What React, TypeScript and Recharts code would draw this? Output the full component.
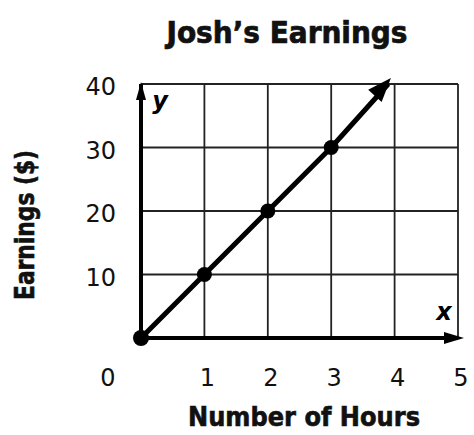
import React from 'react';
import { LineChart, Line, XAxis, YAxis, CartesianGrid, ReferenceDot, Label } from 'recharts';

const hours = [0, 1, 2, 3, 3.9];
const earnings = [0, 10, 20, 30, 40];
const xTicks = [0, 1, 2, 3, 4, 5];
const yTicks = [0, 10, 20, 30, 40];
const title = 'Josh\u2019s Earnings';
const xLabel = 'Number of Hours';
const yLabel = 'Earnings ($)';
const xAxisLetter = 'x';
const yAxisLetter = 'y';

const data = hours.map((h, i) => ({ hours: h, earnings: earnings[i] }));

const BOLD_FONT = "'DejaVu Sans Condensed', 'Liberation Sans Narrow', 'DejaVu Sans', sans-serif";
const TICK_FONT = "'DejaVu Sans', 'Noto Sans', sans-serif";

const XTick = (props: any) => {
  const { x, y, payload } = props;
  const v = payload.value;
  const dx = v === 0 ? -33 : 3;
  return (
    <text x={x + dx} y={y} dy={32} textAnchor="middle" dominantBaseline="central"
      fontFamily={TICK_FONT} fontSize={24} fill="#111">
      {v}
    </text>
  );
};

const YTick = (props: any) => {
  const { x, y, payload } = props;
  const v = payload.value;
  if (v === 0) return <g />;
  return (
    <text x={x - 17} y={y} dy={3} textAnchor="end" dominantBaseline="central"
      fontFamily={TICK_FONT} fontSize={24} fill="#111">
      {v}
    </text>
  );
};

const renderDot = (props: any) => {
  const { cx, cy, index, points } = props;
  if (index === hours.length - 1) {
    let ang = -Math.PI / 4;
    if (points && points[index - 1]) {
      const p = points[index - 1];
      ang = Math.atan2(cy - p.y, cx - p.x);
    }
    const c = Math.cos(ang), s = Math.sin(ang);
    const tx = cx + 4 * c, ty = cy + 4 * s - 3;
    const bx = tx - 24 * c, by = ty - 24 * s;
    const w = 9;
    const pts = `${tx},${ty} ${bx - w * s},${by + w * c} ${bx + w * s},${by - w * c}`;
    return <polygon key={`dot-${index}`} points={pts} fill="#000" />;
  }
  return <circle key={`dot-${index}`} cx={cx} cy={cy} r={index === 0 ? 8 : 7.5} fill="#000" />;
};

const RightArrow = (props: any) => {
  const { cx, cy } = props;
  return (
    <g>
      <polygon points={`${cx + 6},${cy} ${cx - 14},${cy - 6} ${cx - 14},${cy + 6}`} fill="#000" />
      <text x={cx - 14} y={cy - 18} textAnchor="middle" fontFamily={TICK_FONT} fontStyle="italic"
        fontWeight="bold" fontSize={24} fill="#000">{xAxisLetter}</text>
    </g>
  );
};

const UpArrow = (props: any) => {
  const { cx, cy } = props;
  return (
    <g>
      <polygon points={`${cx},${cy - 2} ${cx - 5},${cy + 16} ${cx + 5},${cy + 16}`} fill="#000" />
      <text x={cx + 19} y={cy + 25} textAnchor="middle" fontFamily={TICK_FONT} fontStyle="italic"
        fontWeight="bold" fontSize={24} fill="#000">{yAxisLetter}</text>
    </g>
  );
};

const YLabelContent = () => {
  const cx = 25;
  const cy = 225;
  return (
    <text x={cx} y={cy} transform={`rotate(-90, ${cx}, ${cy})`} textAnchor="middle"
      dominantBaseline="central" fontFamily={BOLD_FONT} fontWeight="bold" fontSize={26}
      textLength={150} lengthAdjust="spacingAndGlyphs"
      stroke="#111" strokeWidth={0.6} fill="#111">
      {yLabel}
    </text>
  );
};

const XLabelContent = () => {
  return (
    <text x={304} y={426} textAnchor="middle" fontFamily={BOLD_FONT} fontWeight="bold" fontSize={27}
      textLength={232} lengthAdjust="spacingAndGlyphs"
      stroke="#111" strokeWidth={0.6} fill="#111">
      {xLabel}
    </text>
  );
};

export default function App() {
  return (
    <div style={{ position: 'absolute', left: 0, top: 0, width: 474, height: 435, background: '#fff' }}>
      <LineChart width={474} height={435} data={data} margin={{ top: 84, right: 16, bottom: 0, left: 0 }}>
        <CartesianGrid stroke="#222" strokeWidth={1.8} horizontal vertical
          horizontalValues={yTicks} verticalValues={xTicks} />
        <XAxis type="number" dataKey="hours" domain={[0, 5]} ticks={xTicks} interval={0}
          height={97} tick={<XTick />} tickLine={false}
          axisLine={{ stroke: '#000', strokeWidth: 4 }}>
          <Label content={<XLabelContent />} />
        </XAxis>
        <YAxis type="number" domain={[0, 40]} ticks={yTicks} interval={0} width={141}
          tick={<YTick />} tickLine={false} axisLine={{ stroke: '#000', strokeWidth: 4 }}>
          <Label content={<YLabelContent />} />
        </YAxis>
        <ReferenceDot x={5} y={0} shape={<RightArrow />} ifOverflow="visible" />
        <ReferenceDot x={0} y={40} shape={<UpArrow />} ifOverflow="visible" />
        <Line type="linear" dataKey="earnings" stroke="#000" strokeWidth={5}
          dot={renderDot} activeDot={false} isAnimationActive={false} />
      </LineChart>
      <svg width={474} height={70} style={{ position: 'absolute', left: 0, top: 0, pointerEvents: 'none' }}>
        <text x={287} y={43} textAnchor="middle" fontFamily={BOLD_FONT} fontWeight="bold" fontSize={31}
          textLength={241} lengthAdjust="spacingAndGlyphs"
          stroke="#111" strokeWidth={0.7} fill="#111">
          {title}
        </text>
      </svg>
    </div>
  );
}
